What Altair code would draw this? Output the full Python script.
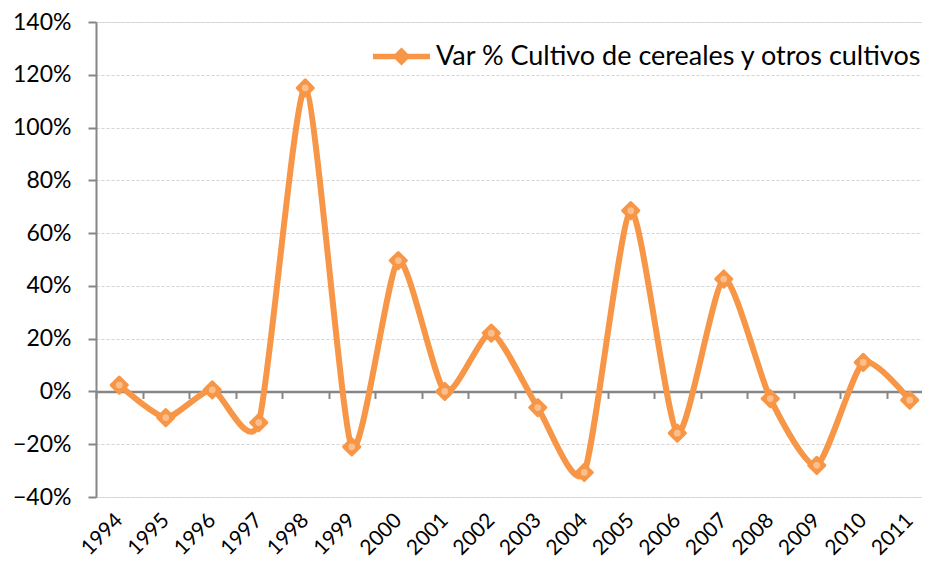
import altair as alt
import pandas as pd

years = list(range(1994, 2012))
values_pct = [2.4, -9.9, 0.6, -11.8, 115.0, -21.0, 49.6, 0.0, 22.1, -6.1,
              -30.7, 68.5, -15.8, 42.6, -2.7, -28.0, 11.0, -3.3]
series_name = "Var % Cultivo de cereales y otros cultivos"
y_ticks_pct = [-40, -20, 0, 20, 40, 60, 80, 100, 120, 140]

df = pd.DataFrame({"year": years,
                   "value": [v / 100 for v in values_pct],
                   "serie": series_name})
bounds = [y - 0.5 for y in years] + [years[-1] + 0.5]

W, H = 826, 475
STEP = 46.5
x_domain = [years[0] - 0.5, years[0] - 0.5 + W / STEP]
y_domain = [y_ticks_pct[0] / 100, y_ticks_pct[-1] / 100]
zero_pos = H * (y_domain[1] - 0) / (y_domain[1] - y_domain[0])

ORANGE = "#F79646"
LIGHT = "#FBC69C"
AXIS_GRAY = "#868686"
FONT = "Lato"

x_scale = alt.Scale(domain=x_domain, nice=False, zero=False)
y_scale = alt.Scale(domain=y_domain, nice=False, zero=False)

y_axis = alt.Axis(values=[t / 100 for t in y_ticks_pct], format=".0%",
                  domainColor=AXIS_GRAY, domainWidth=2, tickColor=AXIS_GRAY,
                  tickWidth=2, tickSize=8, labelPadding=17, labelFontSize=23,
                  labelFont=FONT, labelColor="#000000", grid=True,
                  gridColor="#D4D4D4", gridDash=[3, 2], gridWidth=1, title=None)

x_label_axis = alt.Axis(values=years, format="d", labelAngle=-45,
                        labelAlign="right", labelBaseline="middle",
                        labelPadding=20, labelFontSize=21, labelFont=FONT,
                        labelColor="#000000", ticks=False, domain=False,
                        grid=False, title=None, labelOverlap=False,
                        labelBound=False, labelFlush=False)

x_zero_axis = alt.Axis(values=bounds, labels=False, ticks=True, tickSize=7,
                       tickColor=AXIS_GRAY, tickWidth=2, domain=True,
                       domainColor=AXIS_GRAY, domainWidth=2.5, grid=False,
                       title=None, orient="bottom", offset=-(H - zero_pos))

base = alt.Chart(df)

line = base.mark_line(interpolate="cardinal", tension=0.35, color=ORANGE,
                      strokeWidth=6, strokeCap="round", strokeJoin="round").encode(
    x=alt.X("year:Q", scale=x_scale, axis=x_label_axis),
    y=alt.Y("value:Q", scale=y_scale, axis=y_axis),
)

legend_symbol = ("M -1 -0.1 L 1 -0.1 L 1 0.1 L -1 0.1 Z "
                 "M 0 -0.32 L 0.32 0 L 0 0.32 L -0.32 0 Z")

points = base.mark_point(shape="diamond", filled=True, size=260, opacity=1,
                         stroke=ORANGE, strokeWidth=3, strokeJoin="round").encode(
    x=alt.X("year:Q", scale=x_scale, axis=x_zero_axis),
    y=alt.Y("value:Q", scale=y_scale, axis=y_axis),
    color=alt.Color("serie:N",
                    scale=alt.Scale(domain=[series_name], range=[ORANGE]),
                    legend=alt.Legend(title=None, orient="none", legendX=277,
                                      legendY=6, symbolType=legend_symbol,
                                      symbolSize=3249, symbolStrokeWidth=0,
                                      symbolOpacity=1, labelFontSize=27,
                                      labelFont=FONT, labelColor="#000000",
                                      labelOffset=6, padding=0, labelLimit=800)),
)

centers = base.mark_circle(size=45, opacity=0.85, color=LIGHT).encode(
    x=alt.X("year:Q", scale=x_scale, axis=None),
    y=alt.Y("value:Q", scale=y_scale, axis=y_axis),
)

chart = alt.layer(line, points, centers).resolve_axis(x="independent").properties(
    width=W, height=H,
    autosize=alt.AutoSizeParams(type="none"),
    padding={"left": 88, "top": 14, "right": 0, "bottom": 64},
).configure_view(stroke=None).configure(background="white")

chart.save("out.html", embed_options={"renderer": "svg", "actions": False})
